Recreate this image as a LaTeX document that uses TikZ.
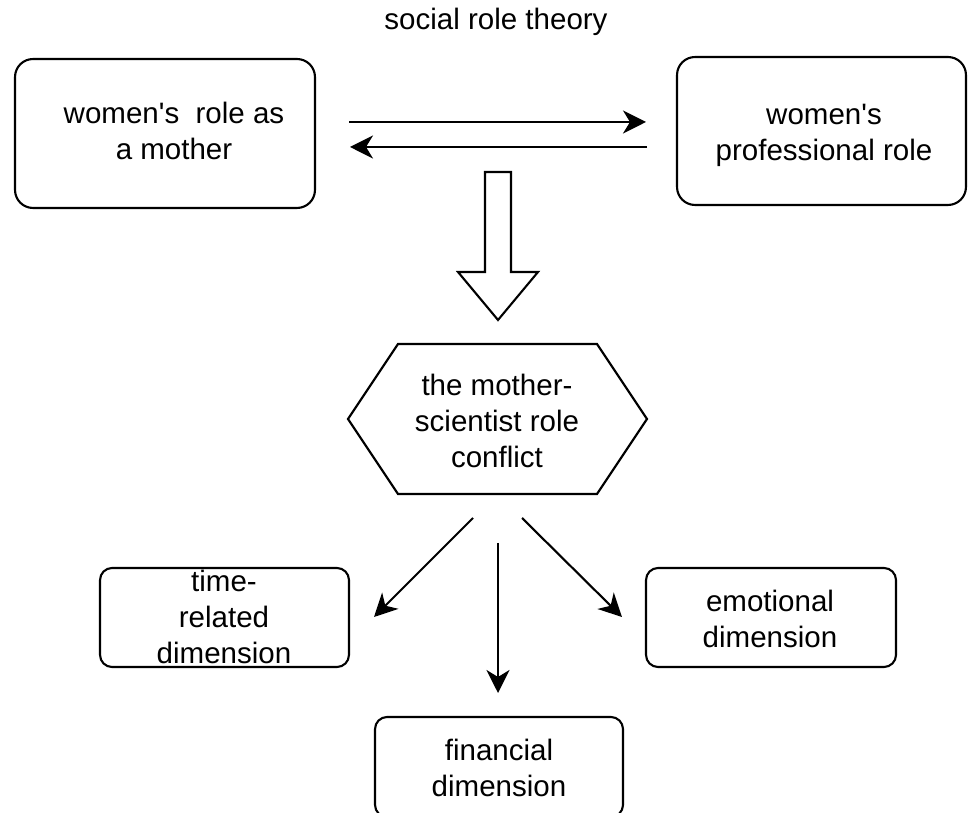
\documentclass[tikz,border=0pt]{standalone}
\usepackage{fontspec}
\newfontfamily\lib{Liberation Sans}
\usetikzlibrary{arrows.meta}
\begin{document}
\begin{tikzpicture}[x=0.02cm,y=-0.02cm,
  box/.style={draw,line width=1.2pt,inner sep=0pt},
  bigbox/.style={box,rounded corners=0.36cm},
  smallbox/.style={box,rounded corners=0.24cm},
  lbl/.style={align=center,font=\lib\fontsize{16.8}{20.5}\selectfont,inner sep=0pt},
  conn/.style={line width=1.2pt,-{Stealth[length=0.46cm,width=0.46cm,inset=0.14cm]}},
  outline/.style={line width=1.2pt,line join=miter}]
\useasboundingbox (0,0) rectangle (974,813);
\fill[white] (0,0) rectangle (974,813);
% title
\node[lbl] (title) at (496,22) {social role theory};
% top boxes
\node[bigbox,minimum width=6cm,minimum height=2.98cm] (mother) at (165,133.5) {};
\node[lbl] (mothert) at (174,131) {women's\ \ role as\\a mother};
\node[bigbox,minimum width=5.78cm,minimum height=2.96cm] (prof) at (821.5,131) {};
\node[lbl] (proft) at (824,135) {women's\\professional role};
% arrows between
\coordinate (r1) at (349,122);
\coordinate (r2) at (646,122);
\coordinate (l1) at (647,147);
\coordinate (l2) at (350,147);
\draw[conn] (r1) -- (r2);
\draw[conn] (l1) -- (l2);
% big hollow arrow
\draw[outline] (485,172) -- (511,172) -- (511,272) -- (538,272) -- (498,320) -- (458,272) -- (485,272) -- cycle;
% hexagon
\draw[outline] (348,419) -- (398,344) -- (597,344) -- (647,419) -- (597,494) -- (398,494) -- cycle;
\node[lbl] (hex) at (497,421) {the mother-\\scientist role\\conflict};
% bottom boxes
\node[smallbox,minimum width=4.98cm,minimum height=1.98cm] (time) at (224.5,617.5) {};
\node[lbl] (timet) at (224,617) {time-\\related\\dimension};
\node[smallbox,minimum width=5cm,minimum height=1.98cm] (emo) at (771,617.5) {};
\node[lbl] (emot) at (770,619) {emotional\\dimension};
\node[smallbox,minimum width=4.96cm,minimum height=2cm] (fin) at (499,767) {};
\node[lbl] (fint) at (499,768) {financial\\dimension};
% arrows from conflict
\coordinate (s1) at (473,518);
\coordinate (e1) at (374,617);
\coordinate (s2) at (498,543);
\coordinate (e2) at (498,693);
\coordinate (s3) at (522,518);
\coordinate (e3) at (622,617);
\draw[conn] (s1) -- (e1);
\draw[conn] (s2) -- (e2);
\draw[conn] (s3) -- (e3);
\end{tikzpicture}
\end{document}
